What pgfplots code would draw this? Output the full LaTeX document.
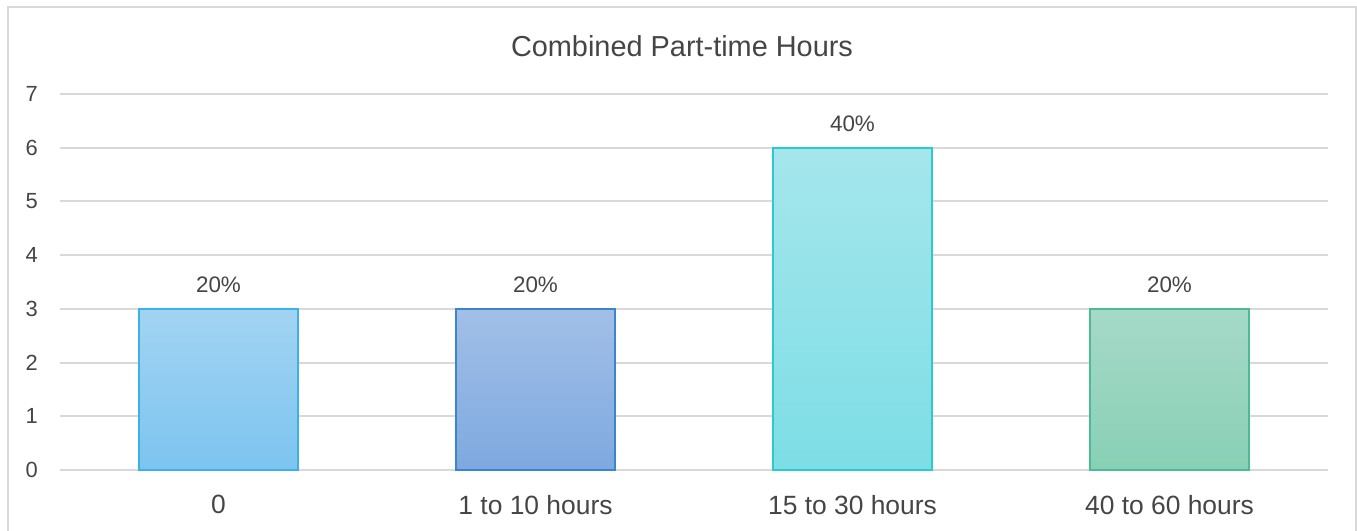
\documentclass[border=0pt]{standalone}
\usepackage{fontspec}
\setmainfont{Liberation Sans}
\usepackage{pgfplots}
\pgfplotsset{compat=1.18}

\definecolor{gridgray}{HTML}{D9D9D9}
\definecolor{framegray}{HTML}{D9D9D9}
\definecolor{txtgray}{HTML}{454545}
% bar colours: top / bottom / edge
\definecolor{aT}{HTML}{A2D4F1}\definecolor{aB}{HTML}{7DC4F0}\definecolor{aE}{HTML}{3BB1E6}
\definecolor{bT}{HTML}{A2BFE7}\definecolor{bB}{HTML}{7EA9DF}\definecolor{bE}{HTML}{3A85CB}
\definecolor{cT}{HTML}{A5E6EC}\definecolor{cB}{HTML}{7DDEE5}\definecolor{cE}{HTML}{2DC9D1}
\definecolor{dT}{HTML}{A6D9C8}\definecolor{dB}{HTML}{88D0B5}\definecolor{dE}{HTML}{4BBB95}

\begin{document}
\begin{tikzpicture}[x=1bp,y=1bp]
    \begin{axis}[
        name=main,
        scale only axis,
        width=1268bp, height=376bp,
        xmin=-0.5, xmax=3.5,
        ymin=0, ymax=7,
        ytick={0,1,2,3,4,5,6,7},
        xtick={0,1,2,3},
        xticklabels={0, 1 to 10 hours, 15 to 30 hours, 40 to 60 hours},
        axis line style={draw=none},
        major tick length=0pt,
        ymajorgrids=true,
        grid style={gridgray, line width=2bp},
        /pgf/number format/assume math mode=true,
        tick label style={txtgray, inner sep=0pt},
        yticklabel style={font=\fontsize{22}{26}\selectfont, anchor=east, xshift=-22bp},
        xticklabel style={font=\fontsize{26.5}{30}\selectfont, anchor=north, yshift=-25bp},
        nodes near coords style={txtgray, font=\fontsize{22.5}{26}\selectfont, anchor=south, inner sep=0pt, yshift=15bp},
        ybar,
        bar width=0.5,
        clip=false,
        ]

        \addplot[ybar, bar shift=0pt, draw=aE, line width=2bp, top color=aT, bottom color=aB,
            nodes near coords, point meta=explicit symbolic]
            coordinates {(0,3) [20\%]};
        \addplot[ybar, bar shift=0pt, draw=bE, line width=2bp, top color=bT, bottom color=bB,
            nodes near coords, point meta=explicit symbolic]
            coordinates {(1,3) [20\%]};
        \addplot[ybar, bar shift=0pt, draw=cE, line width=2bp, top color=cT, bottom color=cB,
            nodes near coords, point meta=explicit symbolic]
            coordinates {(2,6) [40\%]};
        \addplot[ybar, bar shift=0pt, draw=dE, line width=2bp, top color=dT, bottom color=dB,
            nodes near coords, point meta=explicit symbolic]
            coordinates {(3,3) [20\%]};
    \end{axis}

    % page = 1357 x 531 around the plot area (which starts 60 px in, 61 px up)
    \path (main.south west) ++(-60,-61) coordinate (bb);
    \pgfresetboundingbox
    \useasboundingbox (bb) rectangle ++(1357,531);
    \draw[framegray, line width=2bp] ([shift={(8,-10)}]bb) -- ([shift={(8,524)}]bb)
        -- ([shift={(1356,524)}]bb) -- ([shift={(1356,-10)}]bb);
    \node[txtgray, font=\fontsize{29}{34}\selectfont] at ([shift={(682,485)}]bb) {Combined Part-time Hours};
\end{tikzpicture}
\end{document}
